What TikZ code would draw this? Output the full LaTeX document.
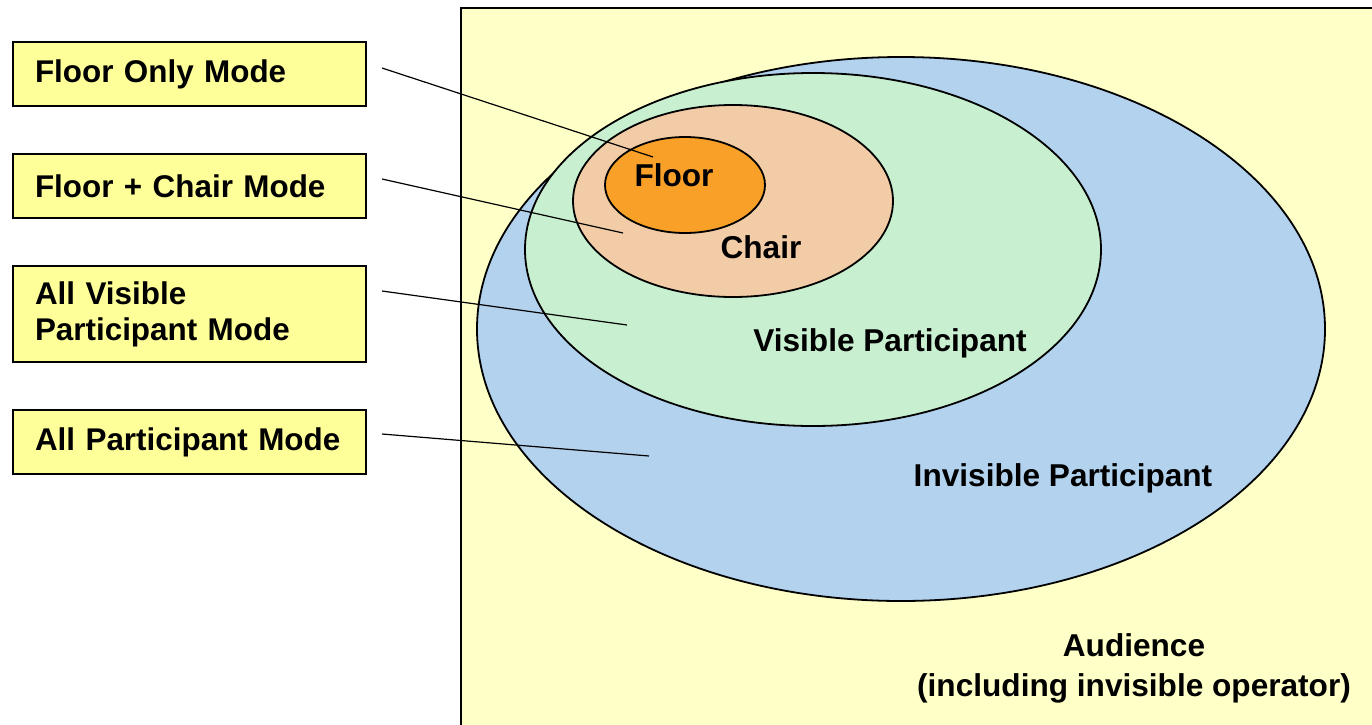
\documentclass[tikz,border=0pt]{standalone}
\usepackage{fontspec}
\setmainfont{Liberation Sans}
\usetikzlibrary{calc}
\definecolor{boxyellow}{RGB}{255,255,153}
\definecolor{paleyellow}{RGB}{255,255,200}
\definecolor{invblue}{RGB}{178,210,238}
\definecolor{visgreen}{RGB}{200,240,208}
\definecolor{chairpeach}{RGB}{242,204,166}
\definecolor{floororange}{RGB}{248,160,40}
\tikzset{
every picture/.style={
line width=0.6pt
}}

\begin{document}
\begin{tikzpicture}[x=0.5pt, y=-0.5pt,
modebox/.style = {rectangle, draw=black, line width=1pt, fill=boxyellow, align=left,
  anchor=north west, inner xsep=11pt, text width=154.5pt, minimum height=32pt,
  font=\fontsize{15.7}{18}\selectfont\bfseries},
zone/.style = {draw=black, line width=0.9pt},
zonelabel/.style = {align=center, font=\fontsize{15.8}{20}\selectfont\bfseries}]

\useasboundingbox (0,0) rectangle (1372,724);
\clip (0,0) rectangle (1372,724);

% audience area
\draw [fill=paleyellow, line width=1pt] (461,8) rectangle (1390,740);

% nested zones
\draw [zone, fill=invblue] (901,329) ellipse [x radius=424, y radius=272];
\draw [zone, fill=visgreen] (813,249.5) ellipse [x radius=288, y radius=176.5];
\draw [zone, fill=chairpeach] (733,201) ellipse [x radius=160, y radius=96];
\draw [zone, fill=floororange] (685,185) ellipse [x radius=80, y radius=48];

\node [zonelabel] (floor) at (674,175) {Floor};
\node [zonelabel] (chair) at (761,247) {Chair};
\node [zonelabel] (visible) at (890,343) {Visible Participant};
\node [zonelabel] (invisible) at (1063,478) {Invisible Participant};
\node [zonelabel] (audience) at (1134,668) {Audience\\(including invisible operator)};

% mode boxes
\node [modebox] (floormode) at (12,41) {Floor Only Mode};
\node [modebox] (chairmode) at (12,153) {Floor + Chair Mode};
\node [modebox, minimum height=48pt] (visiblemode) at (12,265) {All Visible\\Participant Mode};
\node [modebox] (allmode) at (12,409) {All Participant Mode};

\coordinate (floorpt) at (653,157);
\coordinate (chairpt) at (623,233);
\coordinate (visiblept) at (627,325);
\coordinate (invisiblept) at (649,456);

\draw ($(floormode.east)+(15,-6)$) -- (floorpt);
\draw ($(chairmode.east)+(15,-7)$) -- (chairpt);
\draw ($(visiblemode.east)+(15,-23)$) -- (visiblept);
\draw ($(allmode.east)+(15,-8)$) -- (invisiblept);
\end{tikzpicture}
\end{document}
